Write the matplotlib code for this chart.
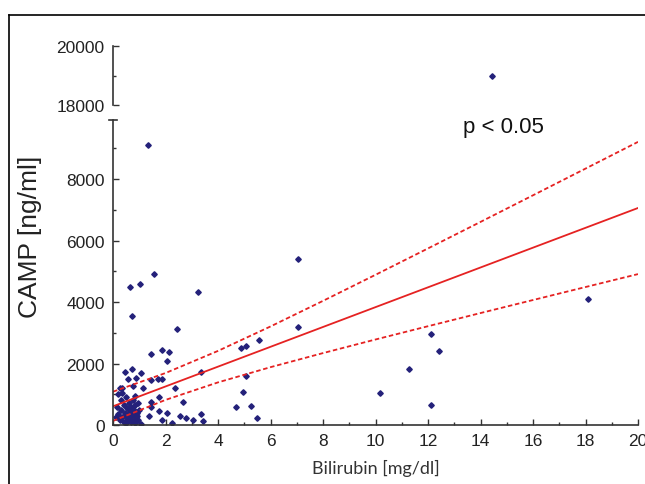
import numpy as np
import matplotlib
matplotlib.use('Agg')
import matplotlib.pyplot as plt
from matplotlib.lines import Line2D
from matplotlib.ticker import MultipleLocator

# scatter data (Bilirubin mg/dl, CAMP ng/ml)
bili = [1.34, 0.64, 1.04, 1.55, 0.74, 2.44, 3.24, 7.06, 7.06, 5.56, 4.86, 5.07,
        5.07, 4.94, 4.67, 5.24, 5.47, 10.17, 3.35, 3.35, 3.44, 18.1, 12.1, 12.42,
        11.29, 12.1, 14.44, 1.45, 1.85, 2.15, 2.06, 0.44, 0.74, 1.05, 0.56, 0.86,
        0.25, 0.35, 1.14, 0.75, 1.45, 1.73, 1.85, 2.35, 1.76, 2.65, 1.45, 1.45,
        1.37, 1.75, 2.06, 1.88, 2.25, 2.55, 2.77, 3.06, 1.05,
        0.15, 0.2, 0.25, 0.3, 0.3, 0.35, 0.4, 0.4, 0.45, 0.5, 0.5, 0.55, 0.55,
        0.6, 0.6, 0.65, 0.65, 0.7, 0.7, 0.75, 0.75, 0.8, 0.8, 0.85, 0.85, 0.9,
        0.9, 0.95, 0.95, 1.0, 0.2, 0.1, 0.5, 0.85, 0.35]
camp = [9115, 4478, 4575, 4910, 3535, 3112, 4336, 5388, 3177, 2774, 2494, 2559,
        1584, 1084, 595, 618, 218, 1041, 1733, 348, 130, 4087, 2970, 2407,
        1810, 650, 19000, 2320, 2439, 2385, 2071, 1713, 1832, 1691, 1496, 1518,
        1192, 1192, 1192, 1258, 1474, 1496, 1496, 1192, 900, 737, 757, 575,
        303, 455, 400, 152, 65, 293, 228, 163, 33,
        600, 350, 150, 500, 800, 250, 650, 100, 400, 300, 900, 550, 150,
        700, 350, 250, 450, 600, 100, 800, 350, 500, 200, 650, 950, 400,
        300, 700, 150, 500, 1000, 250, 50, 50, 1050]

# regression line and confidence band, read at x = 0, 2, ..., 20
fit_x = [0, 2, 4, 6, 8, 10, 12, 14, 16, 18, 20]
fit_y = [608, 1253, 1898, 2543, 3188, 3833, 4478, 5123, 5768, 6413, 7058]
ci_hi = [1083, 1690, 2410, 3205, 4037, 4885, 5743, 6605, 7471, 8339, 9208]
ci_lo = [133, 816, 1386, 1881, 2339, 2781, 3213, 3641, 4065, 4487, 4908]

W, H = 645, 485
fig = plt.figure(figsize=(W / 100, H / 100), dpi=100)
fig.patch.set_facecolor('white')

arial = 'Liberation Sans'
pt_col = '#24217a'
red = '#e52222'
ax_col = '#333333'

ax = fig.add_axes([113 / W, (H - 426) / H, 525 / W, (426 - 121) / H])
top = fig.add_axes([113 / W, (H - 106) / H, 525 / W, 59 / H])

for a in (ax, top):
    a.plot(bili, camp, linestyle='none', marker='D', ms=2.8, color=pt_col)
    a.set_xlim(0, 20)
    for s in ('top', 'right'):
        a.spines[s].set_visible(False)
    a.spines['left'].set_color(ax_col)
    a.spines['left'].set_linewidth(1.2)

ax.plot(fit_x, fit_y, color=red, lw=1.3)
ax.plot(fit_x, ci_hi, color=red, lw=1.3, ls=(0, (2.5, 1.5)))
ax.plot(fit_x, ci_lo, color=red, lw=1.3, ls=(0, (2.5, 1.5)))

ax.set_ylim(0, 9920)
ax.spines['bottom'].set_color(ax_col)
ax.spines['bottom'].set_linewidth(1.2)
ax.xaxis.set_major_locator(MultipleLocator(2))
ax.xaxis.set_minor_locator(MultipleLocator(1))
ax.yaxis.set_major_locator(MultipleLocator(2000))
ax.yaxis.set_minor_locator(MultipleLocator(1000))
ax.tick_params(which='both', direction='in', colors=ax_col, width=1)
ax.tick_params(which='major', length=4, labelsize=12.5, pad=6)
ax.tick_params(which='minor', length=2.5)
for lab in ax.get_xticklabels() + ax.get_yticklabels():
    lab.set_fontfamily(arial)
    lab.set_color('#222222')

top.set_ylim(18000, 20000)
top.spines['bottom'].set_visible(False)
top.set_xticks([])
top.set_yticks([18000, 20000])
top.yaxis.set_minor_locator(MultipleLocator(1000))
top.tick_params(which='both', direction='in', colors=ax_col, width=1)
top.tick_params(which='major', length=4, labelsize=12.5, pad=6)
top.tick_params(which='minor', length=2.5)
for lab in top.get_yticklabels():
    lab.set_fontfamily(arial)
    lab.set_color('#222222')
top.patch.set_alpha(0)

# break cap at the top of the lower axis
ax.plot([-0.008, 0.008], [1, 1], transform=ax.transAxes, color=ax_col,
        lw=1.2, clip_on=False)

ax.set_xlabel('Bilirubin [mg/dl]', fontfamily='Lato', fontsize=13,
              color='#333333', labelpad=8)
fig.text(30 / W, 1 - 237 / H, 'CAMP [ng/ml]', rotation=90, ha='center',
         va='center', fontfamily=arial, fontsize=19, color='#222222')
fig.text(503 / W, 1 - 128 / H, 'p < 0.05', ha='center', va='center',
         fontfamily=arial, fontsize=16, color='#111111')

# outer frame
fig.add_artist(Line2D([8.5 / W, 8.5 / W], [0, 1 - 15.5 / H], color='black',
                      lw=1.2, transform=fig.transFigure))
fig.add_artist(Line2D([8.5 / W, 1], [1 - 15.5 / H, 1 - 15.5 / H],
                      color='black', lw=1.2, transform=fig.transFigure))

fig.savefig('out.png', dpi=100)
